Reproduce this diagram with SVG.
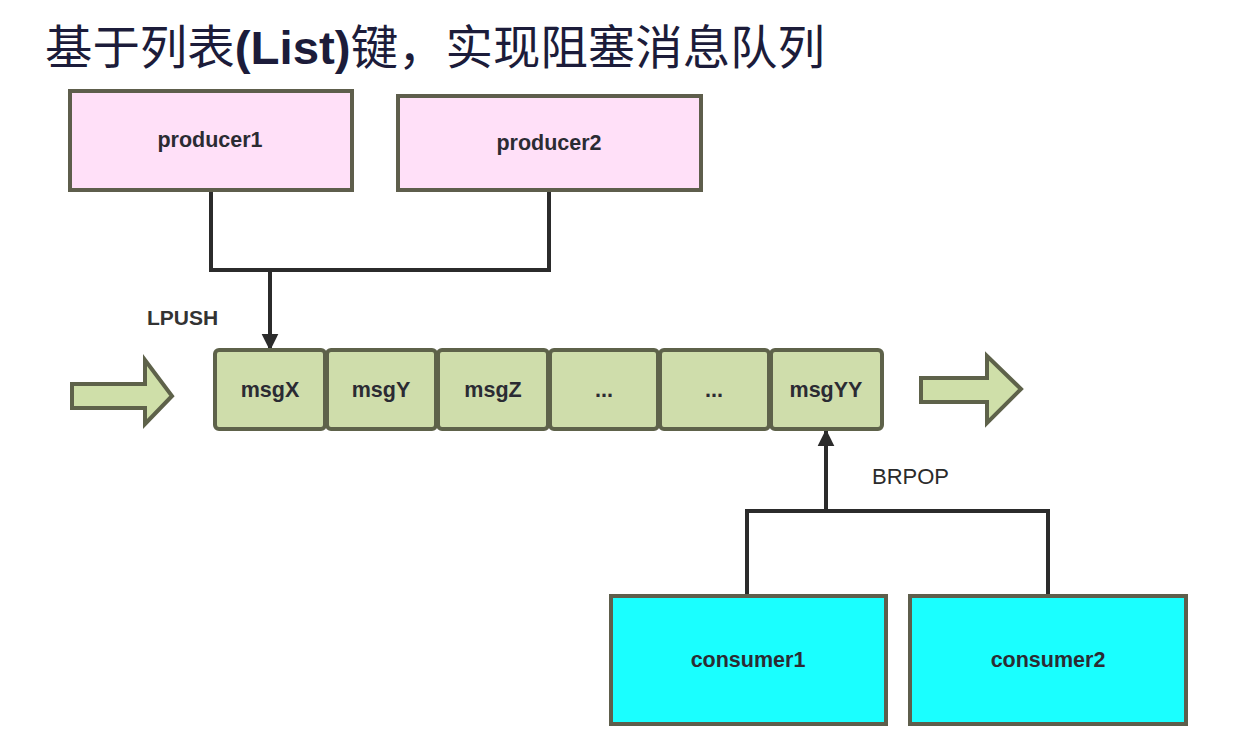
<svg xmlns="http://www.w3.org/2000/svg" width="1244" height="750" viewBox="0 0 1244 750">
<style>
.box{stroke:#5e5e4c;stroke-width:4}
.prod{fill:#ffe0f8}
.cons{fill:#1affff}
.cell{fill:#cfddab;stroke:#5e624a;stroke-width:4}
.blk{fill:#cfdfa9;stroke:#5e624a;stroke-width:4;stroke-linejoin:miter}
.lbl{font-family:"Liberation Sans",Arial,sans-serif;font-weight:bold;font-size:21.5px;fill:#2b2b33;text-anchor:middle}
.conn{fill:none;stroke:#2b2b2b;stroke-width:4}
.title{font-family:"Noto Sans CJK SC","Noto Sans",sans-serif;font-size:47px;fill:#1c1c3a}
</style>
<defs>
<marker id="arr" viewBox="0 0 10 10" refX="9" refY="5" markerWidth="4.2" markerHeight="6" markerUnits="strokeWidth" orient="auto">
<path d="M0,0 L10,5 L0,10 z" fill="#2b2b2b"/>
</marker>
</defs>
<rect width="1244" height="750" fill="#ffffff"/>
<text class="title" x="45" y="64" textLength="780" lengthAdjust="spacingAndGlyphs">基于列表<tspan font-family="'Liberation Sans',Arial,sans-serif" font-weight="bold">(List)</tspan>键，实现阻塞消息队列</text>

<g id="connectors">
<polyline class="conn" points="211,190 211,270 549,270 549,190"/>
<line class="conn" x1="270" y1="270" x2="270" y2="349" marker-end="url(#arr)"/>
<polyline class="conn" points="747,595 747,511 1048,511 1048,595"/>
<line class="conn" x1="826" y1="511" x2="826" y2="431" marker-end="url(#arr)"/>
<text x="147" y="325" font-family="'Liberation Sans',Arial,sans-serif" font-weight="bold" font-size="21" fill="#333">LPUSH</text>
<text x="872" y="484" font-family="'Liberation Sans',Arial,sans-serif" font-size="22" fill="#2b2b2b">BRPOP</text>
</g>

<g id="producer1"><rect class="box prod" x="70" y="91" width="282" height="99"/><text class="lbl" x="210" y="147">producer1</text></g>
<g id="producer2"><rect class="box prod" x="398" y="96" width="303" height="94"/><text class="lbl" x="549" y="150">producer2</text></g>

<g id="in-arrow"><path class="blk" d="M72,384 L145,384 L145,360 L172,396 L145,424 L145,408 L72,408 Z"/></g>
<g id="out-arrow"><path class="blk" d="M921,378 L987,378 L987,356 L1021,389 L987,423 L987,402 L921,402 Z"/></g>

<g id="queue">
<g id="msgX"><rect class="cell" x="215" y="350" width="110" height="79" rx="4"/><text class="lbl" x="270" y="397">msgX</text></g>
<g id="msgY"><rect class="cell" x="327" y="350" width="109" height="79" rx="4"/><text class="lbl" x="381" y="397">msgY</text></g>
<g id="msgZ"><rect class="cell" x="438" y="350" width="110" height="79" rx="4"/><text class="lbl" x="493" y="397">msgZ</text></g>
<g id="dots1"><rect class="cell" x="550" y="350" width="108" height="79" rx="4"/><text class="lbl" x="604" y="397">...</text></g>
<g id="dots2"><rect class="cell" x="660" y="350" width="109" height="79" rx="4"/><text class="lbl" x="714" y="397">...</text></g>
<g id="msgYY"><rect class="cell" x="771" y="350" width="111" height="79" rx="4"/><text class="lbl" x="826" y="397">msgYY</text></g>
</g>

<g id="consumer1"><rect class="box cons" x="611" y="596" width="275" height="128"/><text class="lbl" x="748" y="667">consumer1</text></g>
<g id="consumer2"><rect class="box cons" x="910" y="596" width="276" height="128"/><text class="lbl" x="1048" y="667">consumer2</text></g>
</svg>
